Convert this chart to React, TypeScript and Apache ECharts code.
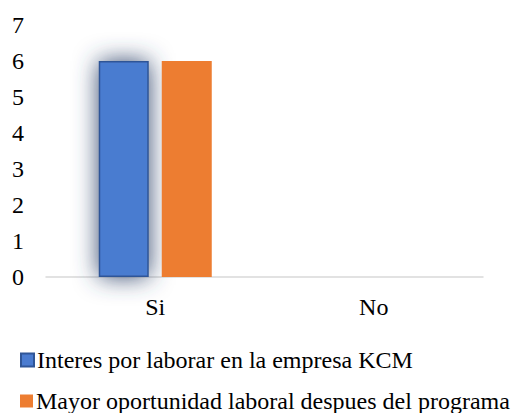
import React, { useEffect, useRef } from "react";
import * as echarts from "echarts";

const categories = ["Si", "No"];
const seriesNames = [
  "Interes por laborar en la empresa KCM",
  "Mayor oportunidad laboral despues del programa",
];
const interesValues = [6, 0];
const oportunidadValues = [6, 0];
const yTicks = [0, 1, 2, 3, 4, 5, 6, 7];

const FONT = "Liberation Serif";

export default function App() {
  const ref = useRef<HTMLDivElement>(null);
  useEffect(() => {
    if (!ref.current) return;
    const chart = echarts.init(ref.current, undefined, { renderer: "svg" });
    const blueItems = interesValues.map((v) =>
      v > 0
        ? { value: v }
        : { value: v, itemStyle: { shadowBlur: 0, borderWidth: 0 } }
    );
    const legendText = {
      fontFamily: FONT,
      fontSize: 24,
      lineHeight: 24,
      color: "#000",
      padding: [0, 0, 0, -2],
    };
    chart.setOption({
      animation: false,
      textStyle: { fontFamily: FONT },
      grid: { left: 46, right: 35, top: 25, bottom: 136 },
      legend: [
        {
          left: 20,
          top: 348,
          padding: 0,
          itemWidth: 13,
          itemHeight: 13,
          icon: "rect",
          textStyle: legendText,
          data: [seriesNames[0]],
        },
        {
          left: 20,
          top: 389,
          padding: 0,
          itemWidth: 13,
          itemHeight: 13,
          icon: "rect",
          textStyle: legendText,
          data: [seriesNames[1]],
        },
      ],
      xAxis: {
        type: "category",
        data: categories,
        axisLine: { lineStyle: { color: "#d9d9d9", width: 1.5 } },
        axisTick: { show: false },
        axisLabel: { fontFamily: FONT, fontSize: 24, color: "#000", margin: 18 },
      },
      yAxis: {
        type: "value",
        min: yTicks[0],
        max: yTicks[yTicks.length - 1],
        interval: 1,
        splitLine: { show: false },
        axisLine: { show: false },
        axisTick: { show: false },
        axisLabel: { fontFamily: FONT, fontSize: 24, color: "#000", margin: 22 },
      },
      series: [
        {
          name: seriesNames[0],
          type: "bar",
          data: blueItems,
          barWidth: 50,
          barGap: "26%",
          itemStyle: {
            color: "#4A7BD0",
            borderColor: "#2F5597",
            borderWidth: 1.5,
            shadowColor: "#34486e",
            shadowBlur: 24,
          },
        },
        {
          name: seriesNames[1],
          type: "bar",
          data: oportunidadValues,
          barWidth: 50,
          itemStyle: { color: "#ED7D31" },
        },
      ],
    });
    return () => chart.dispose();
  }, []);
  return (
    <div
      ref={ref}
      style={{ position: "absolute", left: 0, top: 0, width: 518, height: 413 }}
    />
  );
}
